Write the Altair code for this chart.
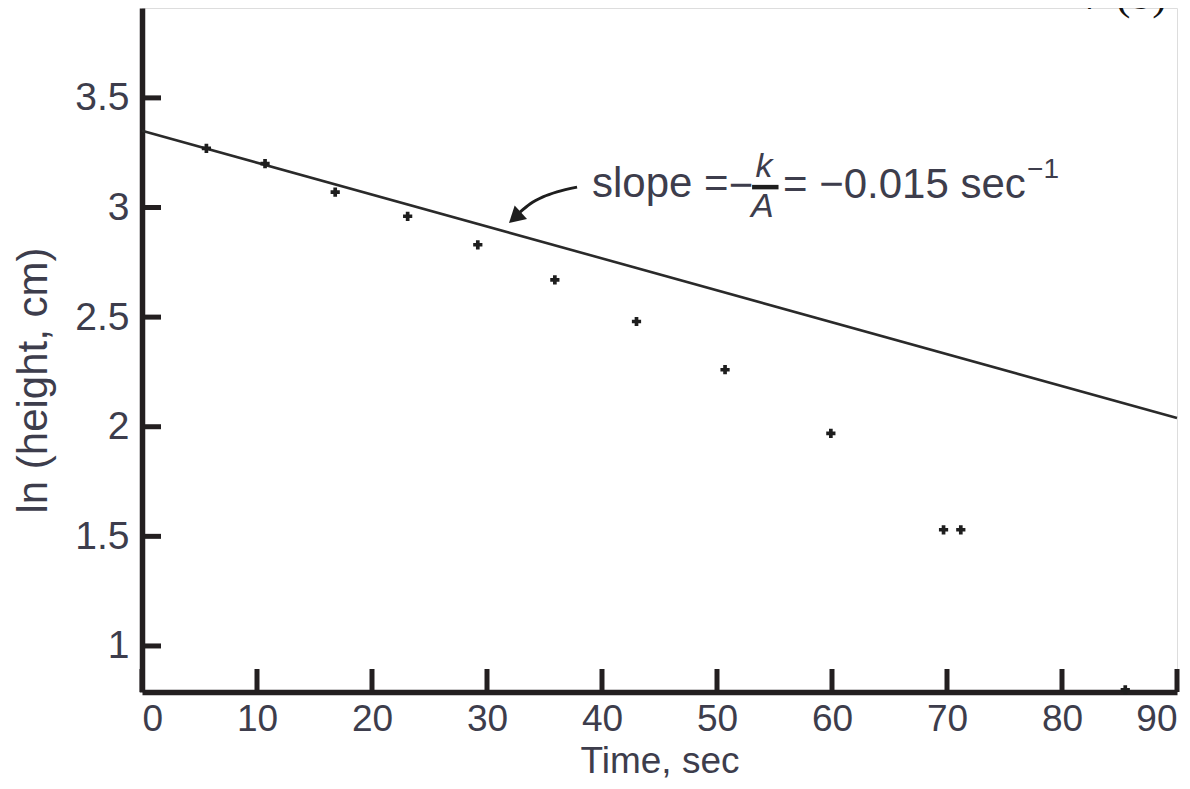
import altair as alt
import pandas as pd

# ---- data ----
t_sec = [5.6, 10.7, 16.8, 23.1, 29.2, 35.9, 43.0, 50.7, 59.9, 69.7, 71.2, 85.5]
ln_height = [3.27, 3.20, 3.07, 2.96, 2.83, 2.67, 2.48, 2.26, 1.97, 1.53, 1.53, 0.80]

fit_t = [0, 90]
fit_v = [3.35, 2.04]

x_ticks = [0, 10, 20, 30, 40, 50, 60, 70, 80, 90]
y_ticks = [1, 1.5, 2, 2.5, 3, 3.5]

# annotation arrow (data coordinates)
arrow_t = [37.83, 36.09, 34.87, 33.74, 32.87]
arrow_v = [3.093, 3.071, 3.048, 3.016, 2.979]
head_t = [32.6]
head_v = [2.962]

ann_text = ["slope =", "\u2212", "= \u22120.015 sec"]
ann_t = [39.13, 52.09, 55.74]
ann_v = [3.107, 3.098, 3.103]
ann_align = ["left", "center", "left"]

frac_text = ["k", "A"]
frac_t = [54.09, 53.95]
frac_v = [3.185, 3.002]
frac_bar_t = [53.05, 55.35]
frac_bar_v = [3.093, 3.093]

sup_text = ["\u22121"]
sup_t = [76.96]
sup_v = [3.171]

panel_text = ["7 (b)"]
panel_t = [89.13]
panel_v = [3.906]

W, H = 1035, 684
INK = "#231f20"
TXT = "#3d3d4c"
FONT = "Liberation Sans"

xs = alt.Scale(domain=[0, 90], nice=False, zero=False)
ys = alt.Scale(domain=[0.79, 3.91], nice=False, zero=False)

x_axis = alt.Axis(values=x_ticks, ticks=False, grid=False, domainColor=INK, domainWidth=5.5,
                  labelFont=FONT, labelFontSize=37, labelColor=TXT, labelPadding=9,
                  title="Time, sec", titleFont=FONT, titleFontSize=37, titleColor=TXT,
                  titleFontWeight="normal", titleY=80, titleBaseline="alphabetic")
y_axis = alt.Axis(values=y_ticks, ticks=False, grid=False, domainColor=INK, domainWidth=5.5,
                  labelFont=FONT, labelFontSize=39, labelColor=TXT, labelPadding=13, format="~g",
                  title="ln (height, cm)", titleFont=FONT, titleFontSize=42, titleColor=TXT,
                  titleFontWeight="normal", titleAngle=270, titleX=-109, titleY=372,
                  titleAlign="center", titleBaseline="middle")

pts = pd.DataFrame({"t": t_sec, "v": ln_height})
fit = pd.DataFrame({"t": fit_t, "v": fit_v})

base_axes = alt.Chart(fit).mark_line(opacity=0).encode(
    x=alt.X("t:Q", scale=xs, axis=x_axis),
    y=alt.Y("v:Q", scale=ys, axis=y_axis),
)

fit_line = alt.Chart(fit).mark_line(color="#2a2a2a", strokeWidth=2.6).encode(
    x=alt.X("t:Q", scale=xs), y=alt.Y("v:Q", scale=ys))

points = alt.Chart(pts).mark_point(shape="cross", filled=True, size=85, color="#1e1e1e", opacity=1).encode(
    x=alt.X("t:Q", scale=xs), y=alt.Y("v:Q", scale=ys))

xt = alt.Chart(pd.DataFrame({"t": x_ticks})).mark_rule(color=INK, strokeWidth=5).encode(
    x=alt.X("t:Q", scale=xs), y=alt.value(H), y2=alt.value(H - 23))
yt = alt.Chart(pd.DataFrame({"v": y_ticks})).mark_rule(color=INK, strokeWidth=5).encode(
    y=alt.Y("v:Q", scale=ys), x=alt.value(0), x2=alt.value(19))

arrow = alt.Chart(pd.DataFrame({"t": arrow_t, "v": arrow_v, "o": list(range(len(arrow_t)))})).mark_line(
    color="#1e1e1e", strokeWidth=3, interpolate="monotone").encode(
    x=alt.X("t:Q", scale=xs), y=alt.Y("v:Q", scale=ys), order="o:O")
head = alt.Chart(pd.DataFrame({"t": head_t, "v": head_v})).mark_point(
    shape="triangle", filled=True, size=340, angle=228, color="#1e1e1e", opacity=1).encode(
    x=alt.X("t:Q", scale=xs), y=alt.Y("v:Q", scale=ys))

ann_df = pd.DataFrame({"t": ann_t, "v": ann_v, "s": ann_text, "a": ann_align})
ann_left = alt.Chart(ann_df[ann_df.a == "left"]).mark_text(
    align="left", baseline="middle", font=FONT, fontSize=42, color=TXT).encode(
    x=alt.X("t:Q", scale=xs), y=alt.Y("v:Q", scale=ys), text="s:N")
ann_center = alt.Chart(ann_df[ann_df.a == "center"]).mark_text(
    align="center", baseline="middle", font=FONT, fontSize=42, color=TXT).encode(
    x=alt.X("t:Q", scale=xs), y=alt.Y("v:Q", scale=ys), text="s:N")

frac = alt.Chart(pd.DataFrame({"t": frac_t, "v": frac_v, "s": frac_text})).mark_text(
    align="center", baseline="middle", font=FONT, fontSize=34, fontStyle="italic", color=TXT).encode(
    x=alt.X("t:Q", scale=xs), y=alt.Y("v:Q", scale=ys), text="s:N")
frac_bar = alt.Chart(pd.DataFrame({"t": frac_bar_t, "v": frac_bar_v})).mark_line(
    color="#1e1e1e", strokeWidth=4.5).encode(
    x=alt.X("t:Q", scale=xs), y=alt.Y("v:Q", scale=ys))

sup = alt.Chart(pd.DataFrame({"t": sup_t, "v": sup_v, "s": sup_text})).mark_text(
    align="left", baseline="middle", font=FONT, fontSize=28, color=TXT).encode(
    x=alt.X("t:Q", scale=xs), y=alt.Y("v:Q", scale=ys), text="s:N")

panel = alt.Chart(pd.DataFrame({"t": panel_t, "v": panel_v, "s": panel_text})).mark_text(
    align="right", baseline="alphabetic", font="Liberation Serif", fontSize=44, color="#111111").encode(
    x=alt.X("t:Q", scale=xs), y=alt.Y("v:Q", scale=ys), text="s:N")

chart = alt.layer(
    base_axes, fit_line, points, xt, yt, arrow, head, ann_left, ann_center, frac, frac_bar, sup, panel
).properties(
    width=W, height=H,
    autosize=alt.AutoSizeParams(type="none"),
    padding={"left": 134, "top": 0, "right": 5, "bottom": 89},
).configure_view(stroke=None).configure(background="white")

chart.save("out.html", embed_options={"renderer": "svg", "actions": False})
